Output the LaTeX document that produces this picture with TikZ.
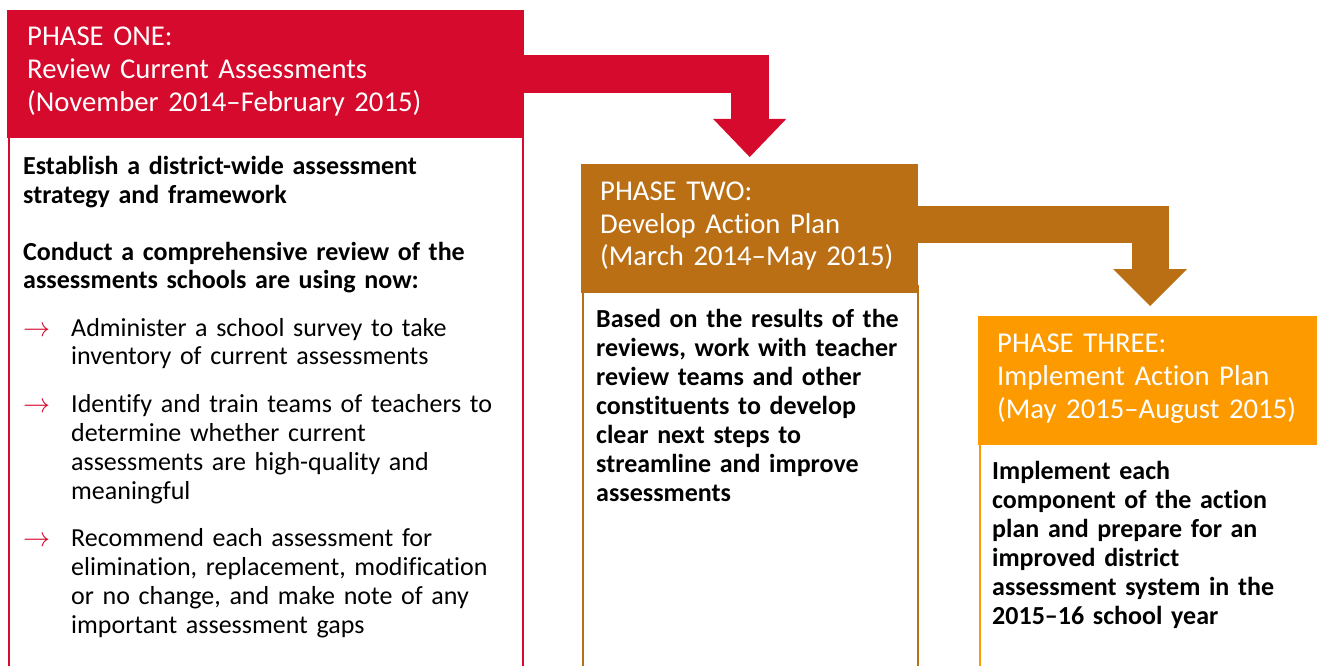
\documentclass[tikz,border=0pt]{standalone}
\usepackage{fontspec}
\setmainfont{Carlito}[Ligatures=NoCommon]
\usetikzlibrary{arrows.meta}
\definecolor{pred}{HTML}{D50A2C}
\definecolor{pbrown}{HTML}{BB6F15}
\definecolor{porange}{HTML}{FD9A00}
\newcommand{\bulitem}[1]{{\leftskip=48pt\noindent\llap{\makebox[48pt][l]{\textcolor{pred}{\resizebox{27pt}{!}{$\rightarrow$}}}}#1\par}}
\begin{document}
\begin{tikzpicture}[x=1pt,y=-1pt,
  hdr/.style={rectangle, inner sep=0pt, anchor=north west},
  bodybox/.style={rectangle, draw=#1, line width=2pt, fill=white, inner sep=0pt, anchor=north west},
  hdrtext/.style={anchor=base west, inner sep=0pt, text width=#1, align=left, text=white, font=\fontsize{28.7}{33}\selectfont},
  bodytext/.style={anchor=base west, inner sep=0pt, text width=#1, align=left, font=\fontsize{26}{29}\selectfont},
  shaft/.style={draw=#1, line join=miter}]
\useasboundingbox (0,0) rectangle (1317,666);
\clip (0,0) rectangle (1317,666);
% body boxes
\node[bodybox=pred, minimum width=514pt, minimum height=560pt] (b1) at (8,130) {};
\node[bodybox=pbrown, minimum width=335pt, minimum height=420pt] (b2) at (582,285) {};
\node[bodybox=porange, minimum width=360pt, minimum height=260pt] (b3) at (979,437) {};
% headers
\node[hdr, fill=pred, minimum width=517pt, minimum height=128pt] (h1) at (7,10) {};
\node[hdr, fill=pbrown, minimum width=337pt, minimum height=129pt] (h2) at (581,164) {};
\node[hdr, fill=porange, minimum width=344pt, minimum height=129pt] (h3) at (978,316) {};
% block arrows
\draw[shaft=pred, line width=38pt] (h1.east) -| ([yshift=45pt]h2.north);
\fill[pred] ([xshift=-36.5pt,yshift=45pt]h2.north) -- ([xshift=36.5pt,yshift=45pt]h2.north) -- ([yshift=7pt]h2.north) -- cycle;
\draw[shaft=pbrown, line width=37pt] ([yshift=4pt]h2.east) -| ([yshift=47pt]h3.north);
\fill[pbrown] ([xshift=-37pt,yshift=47pt]h3.north) -- ([xshift=37pt,yshift=47pt]h3.north) -- ([yshift=10pt]h3.north) -- cycle;
% header texts
\node[hdrtext=480pt] (t1) at (27,46) {PHASE ONE:\\Review Current Assessments\\(November 2014–February 2015)};
\node[hdrtext=320pt] (t2) at (600,200) {PHASE TWO:\\Develop Action Plan\\(March 2014–May 2015)};
\node[hdrtext=320pt] (t3) at (997,352) {PHASE THREE:\\Implement Action Plan\\(May 2015–August 2015)};
% body texts
\node[bodytext=495pt] (x1) at (23,174) {%
\textbf{Establish a district-wide assessment\\strategy and framework}\par
\vspace{28pt}
\textbf{Conduct a comprehensive review of the\\assessments schools are using now:}\par
\vspace{18pt}
\bulitem{Administer a school survey to take\\inventory of current assessments}
\vspace{18.5pt}
\bulitem{Identify and train teams of teachers to\\determine whether current\\assessments are high-quality and\\meaningful}
\vspace{18pt}
\bulitem{Recommend each assessment for\\elimination, replacement, modification\\or no change, and make note of any\\important assessment gaps}};
\node[bodytext=318pt] (x2) at (596,327) {\bfseries Based on the results of the\\reviews, work with teacher\\review teams and other\\constituents to develop\\clear next steps to\\streamline and improve\\assessments};
\node[bodytext=320pt] (x3) at (992,479) {\bfseries Implement each\\component of the action\\plan and prepare for an\\improved district\\assessment system in the\\2015–16 school year};
\end{tikzpicture}
\end{document}
